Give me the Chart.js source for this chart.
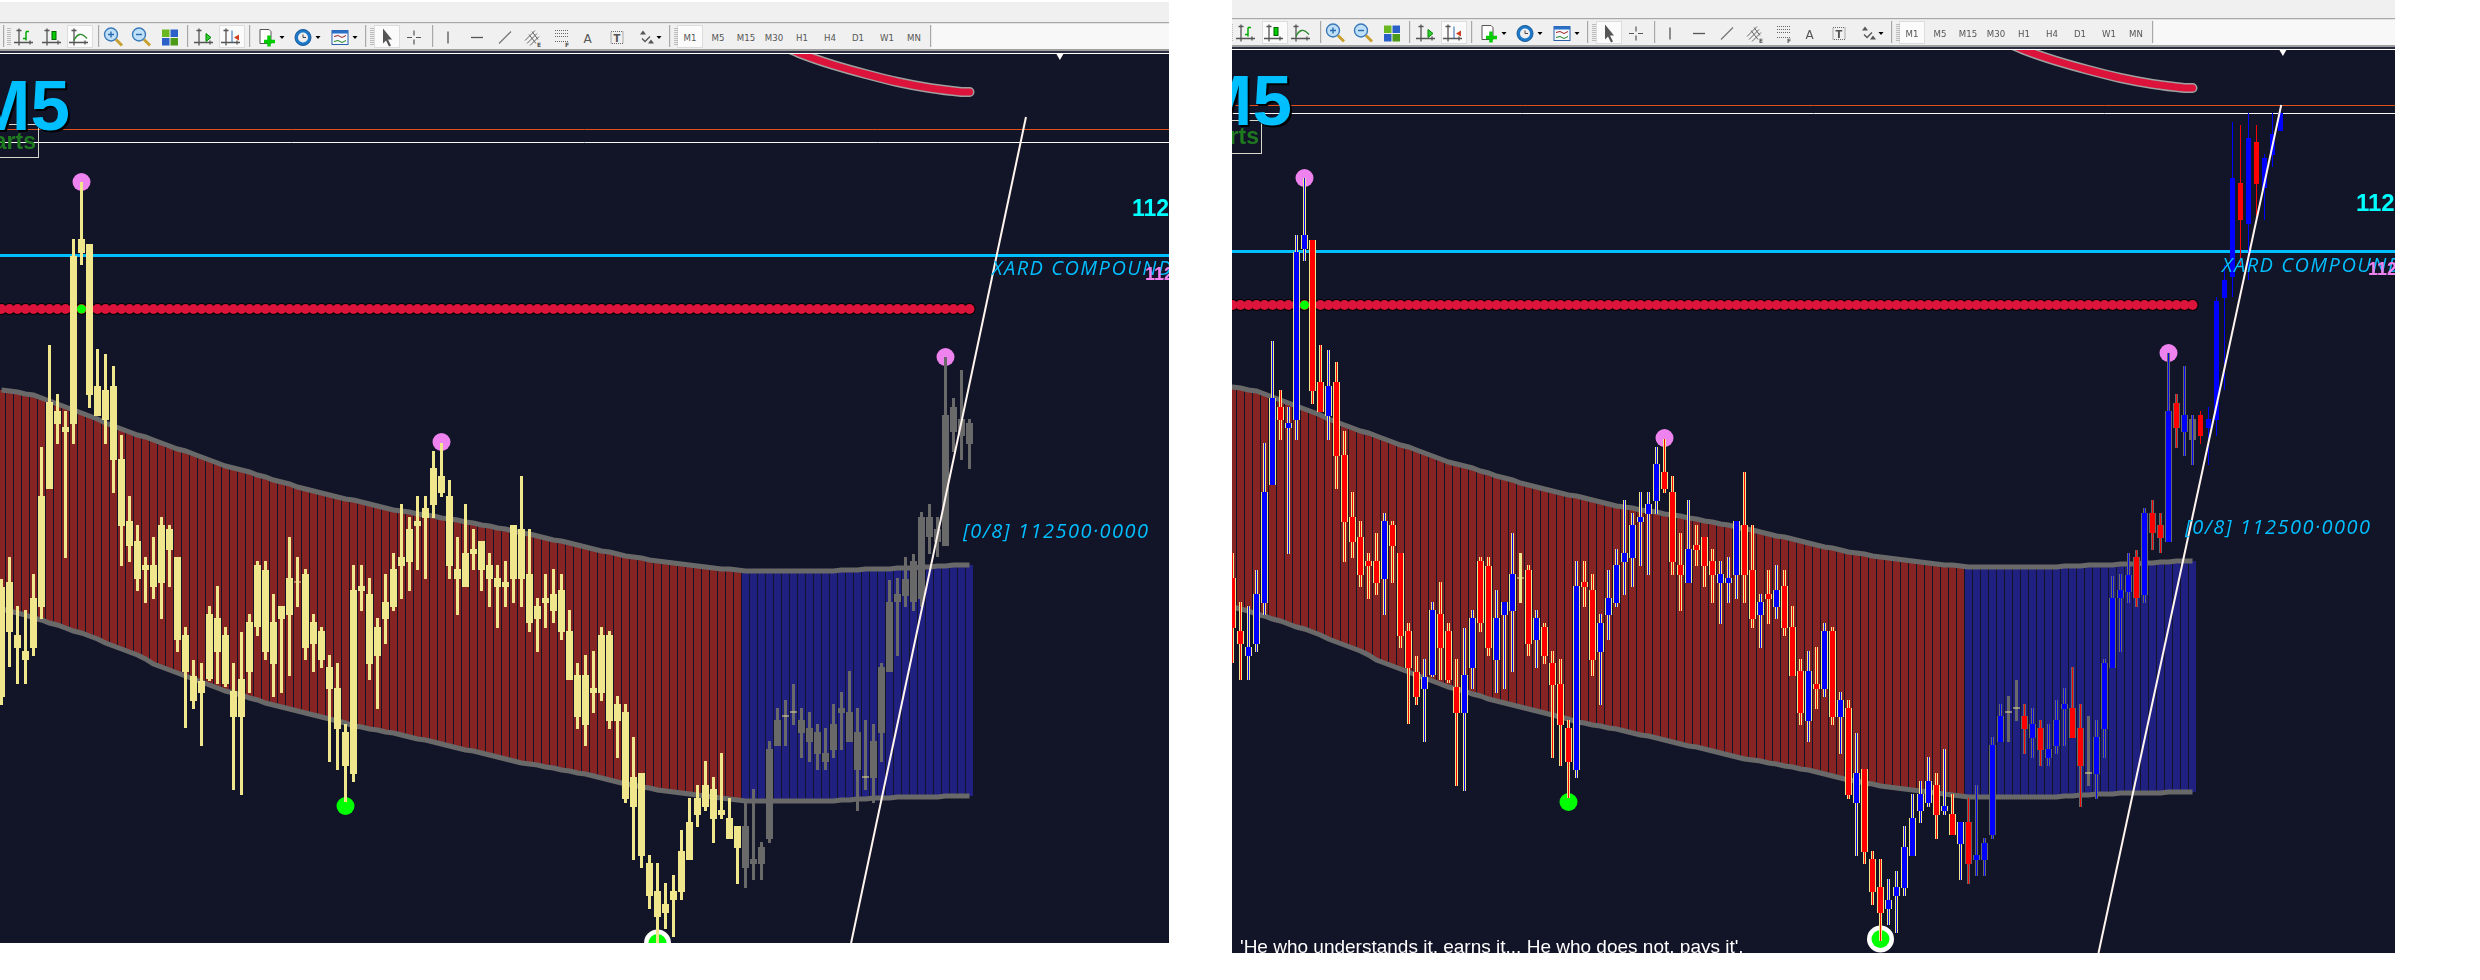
<!DOCTYPE html>
<html><head><meta charset="utf-8">
<style>
html,body{margin:0;padding:0;background:#fff;width:2480px;height:980px;overflow:hidden}
.panel{position:absolute;overflow:hidden;background:#121428}
.panel canvas{position:absolute;left:0;top:0}
.t{position:absolute;white-space:nowrap;line-height:1}
svg{position:absolute;display:block}
</style></head><body>
<script src="https://cdn.jsdelivr.net/npm/chart.js@4"></script>
<script>
// Values are price points on one shared scale (one candle per index).
const candleHigh=[425,447,398,394,430,557,659,610,593,765,
822,760,655,650,638,569,508,479,447,467,
487,479,447,377,344,341,398,418,377,341,
372,390,443,443,410,398,467,447,435,390,
377,349,341,280,439,439,426,386,430,451,
500,487,508,508,553,561,524,467,500,475,
463,451,439,443,479,528,475,406,430,435,
430,394,341,349,353,377,373,308,300,267,
231,149,141,121,129,174,206,219,243,227,
251,206,178,202,215,162,263,296,304,320,
296,292,280,276,300,312,333,296,284,280,
341,424,426,447,450,492,500,487,647,606,
634,585,589,593,703,735,878,875,887,875,
846,887,895];
const candleLow=[299,337,320,320,348,385,515,560,446,560,
739,596,588,560,511,438,442,413,401,405,
385,417,352,276,295,258,323,320,317,214,
209,311,368,344,307,311,328,397,344,332,
336,242,234,202,222,393,324,295,360,393,
405,413,434,425,486,507,425,389,417,434,
413,397,376,397,401,397,372,352,376,381,
364,324,275,258,291,303,275,246,201,144,
136,95,59,75,67,104,144,177,193,161,
185,165,120,116,124,124,161,258,258,279,
246,242,234,234,246,254,262,193,214,201,
242,332,348,397,393,397,450,447,458,552,
544,535,556,535,564,610,703,733,720,783,
780,833,869];
const candleOpen=[307,422,369,344,356,397,515,593,572,580,
751,760,618,584,618,545,483,463,439,439,
421,475,447,369,328,311,325,386,369,313,
287,332,439,434,340,385,389,422,430,360,
373,337,316,272,230,418,410,348,385,397,
438,442,478,486,499,528,508,435,417,455,
463,439,417,417,425,475,430,385,406,393,
414,373,329,279,316,311,369,283,292,197,
231,141,113,91,104,112,144,189,197,215,
189,186,156,178,140,140,165,258,288,292,
284,262,272,242,254,291,292,272,227,226,
271,332,402,408,443,405,487,475,458,597,
568,560,585,572,580,702,723,817,776,858,
812,845,869];
const candleClose=[417,372,356,353,406,508,602,580,577,748,
765,609,588,614,544,478,458,425,434,417,
479,454,364,332,303,323,390,352,320,287,
325,382,377,352,382,398,426,422,356,382,
344,315,275,238,414,413,340,377,402,435,
447,475,483,496,536,511,438,425,451,450,
434,425,426,422,479,425,381,398,401,410,
372,324,287,329,311,369,283,300,205,227,
148,108,87,100,113,153,182,206,219,185,
194,165,178,136,145,157,255,284,288,292,
271,276,250,251,280,296,262,234,227,263,
337,402,410,425,402,487,467,462,589,572,
585,581,564,581,699,720,822,780,862,816,
842,866,887];
const bandUpper=[614,613,612,610,609,606,603,600,597,594,
591,588,585,581,578,575,572,569,567,564,
561,558,555,553,550,547,544,541,538,536,
534,532,529,527,524,522,520,517,515,513,
511,509,507,505,504,502,500,498,496,494,
493,492,490,489,488,486,485,484,482,481,
479,478,476,475,473,471,470,468,466,464,
463,461,459,457,455,453,452,450,448,447,
446,444,443,442,441,440,439,438,437,436,
435,435,434,433,433,433,433,433,433,433,
433,433,433,433,433,434,434,434,435,435,
435,435,436,436,436,437,437,438,438,439,
439,439];
const bandLower=[395,393,391,389,386,384,381,379,376,373,
371,368,365,361,358,355,352,349,345,340,
337,334,331,328,325,322,319,316,313,311,
309,306,304,301,299,297,295,293,291,289,
287,285,283,281,278,277,275,274,272,271,
269,267,265,264,262,260,258,256,254,253,
251,249,247,245,243,241,240,239,237,236,
234,233,231,230,228,226,224,222,220,219,
217,216,214,213,212,211,210,209,208,207,
206,205,204,203,203,203,203,203,203,203,
203,203,203,203,203,204,204,205,205,206,
206,206,207,207,207,207,207,207,208,208,
208,208];
const curveIndex=[96,100,104,108,112,116,120,121];
const curveValue=[964,950,939,930,922,916,912,912];
const pinkIndex=[10,55,118];
const pinkValue=[822,562,647];
const greenIndex=[43];
const greenValue=[198];
const ringIndex=[82];
const ringValue=[61];
const dotValue=695;
const dotCrossIndex=10;
const cyanLevel=748.5;
const orangeLevel={left:874.5,right:894.5};
const whiteLevel={left:861.5,right:886.5};
const trendLeft=[[106.2,61],[128.06,887]];
const trendRight=[[109.25,47],[132.09,895]];
const arrowIndex=132.3;
const arrowValue=948;
const colorlessBody=[121];
const lastRedBand=92, lastBaseCandle=121;
const timeframes=['M1','M5','M15','M30','H1','H4','D1','W1','MN'];

const idx=candleHigh.map((_,i)=>i);
const C={bg:'#121428',khaki:'#F0E68C',gray:'#696969',up:'#0000FF',dn:'#FF0000',redBand:'#862424',blueBand:'#202080',crimson:'#DC143C',cyan:'#00BFFF'};
function bars(data,colors,thick,order){return {type:'bar',data,backgroundColor:colors,barThickness:thick,grouped:false,order,borderWidth:0,inflateAmount:0,borderSkipped:false};}
function line(points,color,width,order,extra){return Object.assign({type:'line',data:points,borderColor:color,borderWidth:width,pointRadius:0,tension:0,fill:false,order},extra||{});}
function pts(color,pointsArr,r,order,extra){return Object.assign({type:'line',data:pointsArr,showLine:false,pointRadius:r,pointBackgroundColor:color,pointBorderWidth:0,order},extra||{});}

function build(side){
  const ds=[];
  const baseIdx=idx.filter(j=>j<=lastBaseCandle);
  const bandIdx=bandUpper.map((_,j)=>j);
  ds.push(bars(bandIdx.map(j=>({x:j,y:[bandLower[j],bandUpper[j]]})),bandIdx.map(j=>j<=lastRedBand?C.redBand:C.blueBand),7,100));
  ds.push(line(bandIdx.map(j=>({x:j,y:bandUpper[j]})),C.gray,5,90));
  ds.push(line(bandIdx.map(j=>({x:j,y:bandLower[j]})),C.gray,5,90));
  const curve=curveIndex.map((x,i)=>({x,y:curveValue[i]}));
  ds.push(line(curve,'#A0A0A0',10,86,{borderCapStyle:'round',tension:0.3}));
  ds.push(line(curve,C.crimson,7,85,{borderCapStyle:'round',tension:0.3}));
  ds.push(line([{x:-2,y:orangeLevel[side]},{x:160,y:orangeLevel[side]}],'#E0501A',1,80));
  ds.push(line([{x:-2,y:whiteLevel[side]},{x:160,y:whiteLevel[side]}],'#F8F8F8',1,80));
  const dots=bandIdx.map(j=>({x:j,y:dotValue}));
  ds.push(pts('#000000',dots,6,71));
  ds.push(pts(C.crimson,dots,5,70));
  ds.push(pts('#00FF00',[{x:dotCrossIndex,y:dotValue}],4.5,69));
  ds.push(pts('#EE82EE',pinkIndex.map((x,i)=>({x,y:pinkValue[i]})),9,60));
  ds.push(pts('#00FF00',greenIndex.map((x,i)=>({x,y:greenValue[i]})),9,60));
  ds.push(pts('#FFFFFF',ringIndex.map((x,i)=>({x,y:ringValue[i]})),13.5,61));
  ds.push(pts('#00FF00',ringIndex.map((x,i)=>({x,y:ringValue[i]})),9,60));
  ds.push(line([{x:-2,y:cyanLevel},{x:160,y:cyanLevel}],C.cyan,3,50));
  const zone=j=>j<=lastRedBand?C.khaki:C.gray;
  ds.push(bars(baseIdx.map(j=>({x:j,y:[candleLow[j],candleHigh[j]]})),baseIdx.map(zone),3,42));
  ds.push(bars(baseIdx.map(j=>{const d=candleOpen[j]===candleClose[j];return {x:j,y:d?[candleOpen[j]-0.5,candleOpen[j]+0.5]:[candleOpen[j],candleClose[j]]};}),
    baseIdx.map(j=>candleOpen[j]===candleClose[j]?C.khaki:zone(j)),7,41));
  if(side==='right'){
    const dir=j=>candleClose[j]>candleOpen[j]?C.up:C.dn;
    const wickIdx=idx.filter(j=>candleOpen[j]!==candleClose[j]);
    const bodyIdx=wickIdx.filter(j=>!colorlessBody.includes(j));
    ds.push(bars(wickIdx.map(j=>({x:j,y:[candleLow[j],candleHigh[j]]})),wickIdx.map(dir),1,31));
    ds.push(bars(bodyIdx.map(j=>({x:j,y:[candleOpen[j],candleClose[j]]})),bodyIdx.map(dir),5,30));
  }
  const tr=side==='left'?trendLeft:trendRight;
  ds.push(line(tr.map(p=>({x:p[0],y:p[1]})),'#FFF5EE',2,10));
  ds.push(pts('#FFFFFF',[{x:arrowIndex,y:arrowValue}],4,5,{pointStyle:'triangle',rotation:180}));
  return ds;
}
function mount(side,id,left,top,w,h,xMin,yMin,yMax){
  const p=document.createElement('div');p.id=id;p.className='panel';
  p.style.cssText=`left:${left}px;top:${top}px;width:${w}px;height:${h}px`;
  const c=document.createElement('canvas');c.width=w;c.height=h;c.style.width=w+'px';c.style.height=h+'px';
  p.appendChild(c);document.body.appendChild(p);
  new Chart(c,{type:'bar',data:{datasets:build(side)},options:{
    responsive:false,animation:false,devicePixelRatio:1,
    layout:{padding:0,autoPadding:false},
    plugins:{legend:{display:false},tooltip:{enabled:false},title:{display:false}},
    events:[],
    scales:{
      x:{type:'linear',display:false,offset:false,min:xMin,max:xMin+w/8,grid:{display:false}},
      y:{type:'linear',display:false,min:yMin,max:yMax,grid:{display:false}}
    }}});
  return p;
}
const L=mount('left','L',0,53,1169,890,-0.1875,61,951);
const R=mount('right','R',1232,49,1163,904,0.9375,47,951);

function text(panel,origin,str,x,base,size,css,align){
  const s=document.createElement('div');s.className='t';s.textContent=str;
  const k=css.asc||0.8465;
  s.style.cssText=`left:${x-origin[0]}px;top:${base-origin[1]-k*size}px;font-size:${size}px;${css.s}`+(align==='r'?';transform:translateX(-100%)':'');
  panel.appendChild(s);
}
const OL=[0,53],OR=[1232,49];
const bold='font-family:"Liberation Sans";font-weight:bold;';
const hand={s:`font-family:"Open Sans";font-style:italic;font-weight:400;color:${C.cyan};letter-spacing:1.5px`,asc:0.97};
function box(panel,origin,x1,y1,x2,y2){const d=document.createElement('div');d.style.cssText=`position:absolute;left:${x1-origin[0]}px;top:${y1-origin[1]}px;width:${x2-x1}px;height:${y2-y1}px;border:1px solid #D8D8C8`;panel.appendChild(d);}
[[L,OL,0,0],[R,OR,1222,-4]].forEach(([p,o,dx,dy],i)=>{
  box(p,o,-20+dx,124+dy,37+dx+(i?1:0),156+dy);
  text(p,o,'M5',(i?1292:70),(i?125:130),71,{s:bold+'color:#00BFFF;text-shadow:2px 2px 0 #000'},'r');
  text(p,o,'Charts',36+dx+(i?1:0),149+dy-(i?1:0),23,{s:bold+'color:#1F7A1F'},'r');
});
text(L,OL,'112',1132,216,23,{s:bold+'color:#00FFFF'});
text(R,OR,'112',2356,211,24,{s:bold+'color:#00FFFF'});
text(L,OL,'XARD COMPOUND',992,277,20,hand);
text(R,OR,'XARD COMPOUND',2222,274,20,hand);
text(L,OL,'112',1145,280,18,{s:bold+'color:#EE82EE'});
text(R,OR,'112',2368,275,18,{s:bold+'color:#EE82EE'});
text(L,OL,'[0/8] 112500·0000',963,540,20,hand);
text(R,OR,'[0/8] 112500·0000',2185,536,20,hand);
text(R,OR,"'He who understands it, earns it... He who does not, pays it'.",1240,953,19,{s:'font-family:"Liberation Sans";color:#fff'});

// toolbar drawing
const AX='<path d="M-6 -9V8M-11 5H8M-8.5 -7H-3.5M5 3V7" stroke="#555" stroke-width="1.3" fill="none"/>';
const icon={
 bar:AX+'<path d="M1 -6V3M1 -6H4M-2 1H1" stroke="#0A0" stroke-width="1.5" fill="none"/>',
 candle:AX+'<rect x="-1" y="-6" width="4" height="8" fill="#0C0" stroke="#060"/>',
 curve:AX+'<path d="M-6 3Q-1 -8 7 1" stroke="#2A8A2A" stroke-width="1.3" fill="none"/>',
 zoomIn:'<circle cx="-2" cy="-3" r="6.5" fill="#BFE0F8" stroke="#3A7AB8" stroke-width="1.4"/><path d="M3 2L9 8" stroke="#C8A030" stroke-width="3"/><path d="M-5 -3H1M-2 -6V0" stroke="#2A6AB0" stroke-width="1.4"/>',
 zoomOut:'<circle cx="-2" cy="-3" r="6.5" fill="#BFE0F8" stroke="#3A7AB8" stroke-width="1.4"/><path d="M3 2L9 8" stroke="#C8A030" stroke-width="3"/><path d="M-5 -3H1" stroke="#2A6AB0" stroke-width="1.4"/>',
 tile:'<rect x="-8" y="-8" width="7.5" height="7.5" fill="#6AB820"/><rect x="0.5" y="-8" width="7.5" height="7.5" fill="#2A60C8"/><rect x="-8" y="0.5" width="7.5" height="7.5" fill="#2A60C8"/><rect x="0.5" y="0.5" width="7.5" height="7.5" fill="#4C9A18"/>',
 auto:AX+'<path d="M1 -4L6 0L1 4Z" fill="#3C3" stroke="#080"/>',
 shift:AX+'<path d="M0 -7V5" stroke="#2A6AB0"/><path d="M7 -3L2 0L7 3Z" fill="#D04020"/>',
 add:'<path d="M-7 -8H2L4 -6V6H-7Z" fill="#FFF" stroke="#555"/><path d="M2 -2V9M-3 4H8" stroke="#0C0" stroke-width="3.5"/>',
 clock:'<circle r="8" fill="#1E78C8" stroke="#155A9A"/><circle r="5" fill="#EEE"/><path d="M0 -3V0H3" stroke="#444" fill="none"/>',
 tpl:'<rect x="-8" y="-7" width="16" height="14" fill="#F4F8FC" stroke="#2A60A8"/><rect x="-8" y="-7" width="16" height="3" fill="#2A70C8"/><path d="M-6 -1L-2 -2L2 0L6 -2" stroke="#A02020" fill="none"/><path d="M-6 4L-2 3L2 5L6 3" stroke="#208020" fill="none"/>',
 cursor:'<path d="M-4 -9V6L-1 3L2 9L4 8L1 2H5Z" fill="#555"/>',
 cross:'<path d="M-7 0H-2M2 0H7M0 -7V-2M0 2V7" stroke="#555" stroke-width="1.2"/>',
 v:'<path d="M0 -6V6" stroke="#555" stroke-width="1.3"/>',
 h:'<path d="M-6 0H6" stroke="#555" stroke-width="1.3"/>',
 t:'<path d="M-6 6L6 -6" stroke="#777" stroke-width="1.3"/>',
 chan:'<path d="M-7 3L3 -7M-5 6L5 -4M-2 8L7 -1M-3 -3L4 6M0 -6L6 2" stroke="#666" fill="none"/><text x="5" y="9" font-size="6" font-family="DejaVu Sans" font-weight="bold" fill="#555">E</text>',
 fib:'<path d="M-6 -7H7M-6 -4H7M-6 -1H7M-6 4H7" stroke="#666" stroke-dasharray="1 1"/><text x="4" y="9" font-size="6" font-family="DejaVu Sans" font-weight="bold" fill="#555">F</text>',
 A:'<text x="-4.5" y="5" font-size="12" font-family="DejaVu Sans" fill="#555">A</text>',
 T:'<rect x="-6" y="-6" width="12" height="12" fill="none" stroke="#666" stroke-dasharray="1 1"/><text x="-3.5" y="4" font-size="10" font-family="DejaVu Sans" font-weight="bold" fill="#555">T</text>',
 arrows:'<path d="M-3 -7L0 -3H-6ZM5 2L8 6H2Z" fill="#555"/><path d="M-4 1L-1 4L4 -1" stroke="#555" fill="none" stroke-width="1.3"/>',
 drop:'<path d="M-2.5 -1.5H2.5L0 1.5Z" fill="#000"/>'
};
const tools=[['bar',25],['candle',53],['curve',80],['zoomIn',113],['zoomOut',141],['tile',170],['auto',205],['shift',232],['add',267],['drop',282],['clock',303],['drop',318],['tpl',340],['drop',355],['cursor',387],['cross',414],['v',448],['h',477],['t',505],['chan',532],['fib',561],['A',588],['T',617],['arrows',646],['drop',659]];
const seps=[3,98,187,249,365,432,669,930];
const grips=[7,370,674];
const tfX=[690,718,746,774,802,830,858,887,914];
function toolbar(pageX,w,dx,dy,activeX){
  let g='';
  g+=`<rect x="${pageX-dx}" y="${Math.max(-dy,2)}" width="${w}" height="60" fill="#F0F0F0"/>`;
  g+=`<rect x="931" y="24" width="${w}" height="25" fill="#F8F8F8"/>`;
  g+=`<rect x="${pageX-dx}" y="22" width="${w}" height="1.2" fill="#A8A8A8"/>`;
  g+=`<rect x="${pageX-dx}" y="49" width="${w}" height="2" fill="#A0A0A0"/>`;
  g+=`<rect x="${pageX-dx}" y="51" width="${w}" height="2" fill="#2A2C40"/>`;
  g+=`<rect x="${pageX-dx}" y="53" width="${w}" height="1" fill="#FFFFFF"/>`;
  activeX.forEach(a=>{g+=`<rect x="${a-12.5}" y="25.5" width="25" height="22" fill="#FBFBFB" stroke="#DDD"/>`;});
  seps.forEach(s=>{g+=`<rect x="${s}" y="25" width="1.2" height="22" fill="#A8A8A8"/>`;});
  grips.forEach(s=>{for(let y=28;y<46;y+=2)g+=`<rect x="${s}" y="${y}" width="4" height="1" fill="#BBB"/>`;});
  tools.forEach(([n,x])=>{g+=`<g transform="translate(${x},37.5)">${icon[n]}</g>`;});
  timeframes.forEach((t,i)=>{g+=`<text x="${tfX[i]}" y="41" text-anchor="middle" font-family="DejaVu Sans" font-size="8.6" fill="#555">${t}</text>`;});
  const wrap=document.createElement('div');
  wrap.innerHTML=`<svg style="left:${pageX}px;top:0" width="${w}" height="${54+dy}" viewBox="0 0 ${w} ${54+dy}"><g transform="translate(${dx-pageX},${dy})">${g}</g></svg>`;
  document.body.appendChild(wrap.firstChild);
}
toolbar(0,1169,0,0,[80,232,387,690]);
toolbar(1232,1163,1222,-4,[53,232,387,690]);
</script>
</body></html>
